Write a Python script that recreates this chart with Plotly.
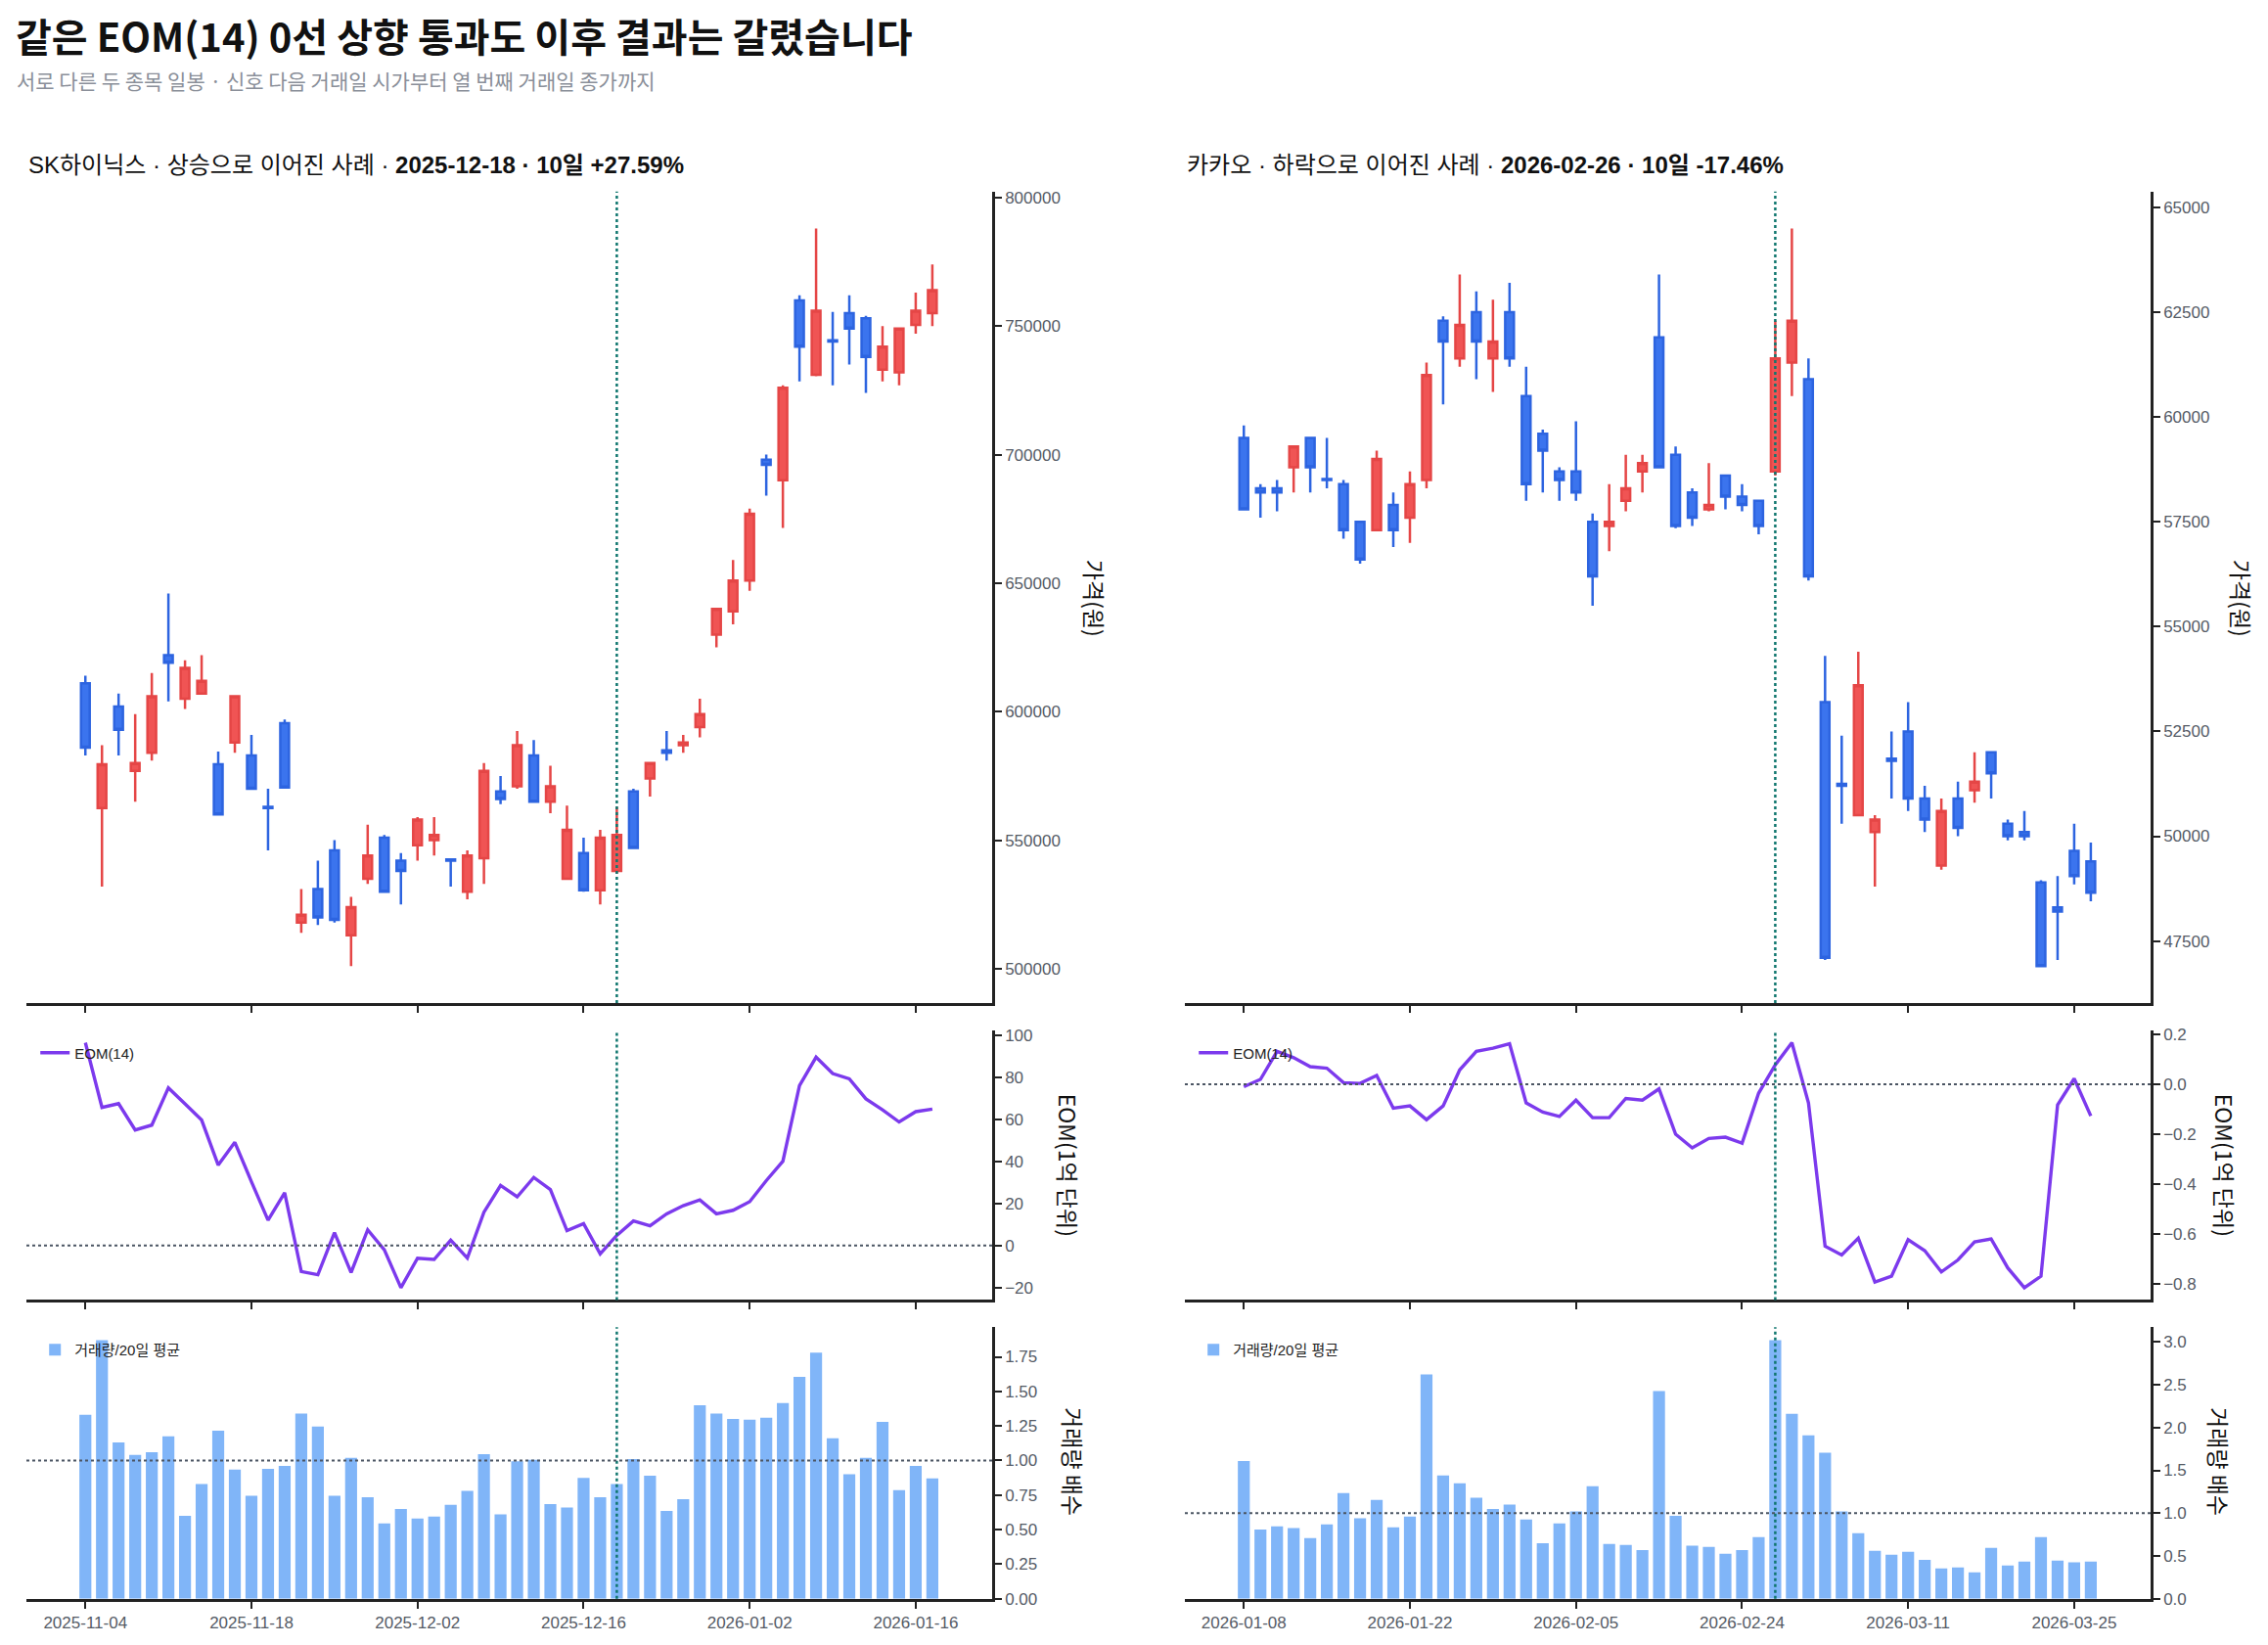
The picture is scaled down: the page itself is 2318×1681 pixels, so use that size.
import plotly.graph_objects as go
from plotly.subplots import make_subplots

# ── Data: SK하이닉스 (signal 2025-12-18) ─────────────────────────────────────
SK_DATES = [
    "2025-11-04", "2025-11-05", "2025-11-06", "2025-11-07", "2025-11-10", "2025-11-11",
    "2025-11-12", "2025-11-13", "2025-11-14", "2025-11-17", "2025-11-18", "2025-11-19",
    "2025-11-20", "2025-11-21", "2025-11-24", "2025-11-25", "2025-11-26", "2025-11-27",
    "2025-11-28", "2025-12-01", "2025-12-02", "2025-12-03", "2025-12-04", "2025-12-05",
    "2025-12-08", "2025-12-09", "2025-12-10", "2025-12-11", "2025-12-12", "2025-12-15",
    "2025-12-16", "2025-12-17", "2025-12-18", "2025-12-19", "2025-12-22", "2025-12-23",
    "2025-12-24", "2025-12-26", "2025-12-29", "2025-12-30", "2026-01-02", "2026-01-05",
    "2026-01-06", "2026-01-07", "2026-01-08", "2026-01-09", "2026-01-12", "2026-01-13",
    "2026-01-14", "2026-01-15", "2026-01-16", "2026-01-19",
]
SK_OPEN = [
    611000, 562500, 602000, 577000, 584000, 622000, 605000, 607000, 579500, 588000,
    583000, 563000, 595500, 518000, 531000, 546000, 513000, 535000, 551000, 542000,
    548000, 550000, 542500, 530000, 543000, 569000, 571000, 583000, 565000, 535000,
    545000, 530500, 538000, 569000, 574000, 585000, 587000, 594000, 630000, 639000,
    651000, 698000, 690000, 760000, 731000, 744500, 755000, 753000, 733000, 732000,
    750500, 755000,
]
SK_HIGH = [
    614000, 587000, 607000, 599000, 615000, 646000, 620000, 622000, 584500, 606000,
    591000, 570000, 597000, 531000, 542000, 550000, 528000, 556000, 552000, 545000,
    559000, 559000, 543000, 546000, 580000, 575000, 592500, 589000, 579000, 563500,
    551000, 554000, 563000, 570000, 580000, 592500, 591000, 605000, 640000, 659000,
    679000, 700000, 727000, 762000, 788000, 755500, 762000, 754000, 750000, 749500,
    763000, 774000,
]
SK_LOW = [
    583000, 532000, 583000, 565000, 581000, 604000, 601000, 607000, 560000, 584000,
    570000, 546000, 570000, 514000, 517000, 518000, 501000, 533000, 530000, 525000,
    542000, 544000, 532000, 527000, 533000, 564000, 570000, 565000, 560500, 535000,
    530000, 525000, 537000, 547000, 567000, 581000, 584000, 590000, 625000, 634000,
    647000, 684000, 671500, 728500, 730500, 727000, 735000, 724000, 728500, 727000,
    747000, 750000,
]
SK_CLOSE = [
    586000, 579500, 593000, 580000, 606000, 619000, 617000, 612000, 560000, 606000,
    570000, 562500, 570500, 521000, 520000, 519000, 524000, 544000, 530000, 538000,
    558000, 552000, 542000, 544000, 577000, 566000, 587000, 565000, 571000, 554000,
    530500, 551000, 552000, 547000, 580000, 584000, 588000, 599000, 640000, 651000,
    677000, 696000, 726000, 742000, 756000, 744000, 749000, 738000, 742000, 749000,
    756000, 764000,
]
SK_EOM = [
    96.4, 65.6, 67.4, 54.9, 57.2, 74.9, 67.3, 59.6, 38.2, 49.0,
    30.3, 12.0, 25.0, -12.4, -13.9, 6.1, -12.9, 7.4, -2.1, -20.1,
    -6.1, -6.7, 2.5, -6.0, 15.8, 28.5, 23.1, 32.3, 26.5, 7.0,
    10.4, -4.0, 4.8, 11.6, 9.3, 15.0, 18.9, 21.6, 15.0, 16.7,
    20.8, 30.8, 40.0, 76.0, 89.5, 81.7, 79.2, 69.7, 64.5, 58.7,
    63.6, 64.8,
]
SK_VOL_RATIO = [
    1.33, 1.87, 1.13, 1.04, 1.06, 1.175, 0.60, 0.83, 1.215, 0.935,
    0.745, 0.94, 0.96, 1.34, 1.245, 0.745, 1.02, 0.735, 0.545, 0.65,
    0.58, 0.595, 0.68, 0.78, 1.045, 0.61, 0.995, 1.005, 0.685, 0.66,
    0.875, 0.735, 0.83, 1.01, 0.89, 0.635, 0.72, 1.40, 1.34, 1.30,
    1.295, 1.31, 1.415, 1.605, 1.78, 1.16, 0.90, 1.02, 1.28, 0.785,
    0.96, 0.87,
]

# ── Data: 카카오 (signal 2026-02-26) ─────────────────────────────────────────
KK_DATES = [
    "2026-01-08", "2026-01-09", "2026-01-12", "2026-01-13", "2026-01-14", "2026-01-15",
    "2026-01-16", "2026-01-19", "2026-01-20", "2026-01-21", "2026-01-22", "2026-01-23",
    "2026-01-26", "2026-01-27", "2026-01-28", "2026-01-29", "2026-01-30", "2026-02-02",
    "2026-02-03", "2026-02-04", "2026-02-05", "2026-02-06", "2026-02-09", "2026-02-10",
    "2026-02-11", "2026-02-12", "2026-02-13", "2026-02-19", "2026-02-20", "2026-02-23",
    "2026-02-24", "2026-02-25", "2026-02-26", "2026-02-27", "2026-03-03", "2026-03-04",
    "2026-03-05", "2026-03-06", "2026-03-09", "2026-03-10", "2026-03-11", "2026-03-12",
    "2026-03-13", "2026-03-16", "2026-03-17", "2026-03-18", "2026-03-19", "2026-03-20",
    "2026-03-23", "2026-03-24", "2026-03-25", "2026-03-26",
]
KK_OPEN = [
    59500, 58300, 58300, 58800, 59500, 58520, 58400, 57500, 57300, 57900,
    57600, 58500, 62300, 61400, 62500, 61400, 62500, 60500, 59600, 58700,
    58700, 57500, 57400, 58000, 58700, 61900, 59100, 58200, 57800, 58600,
    58100, 58000, 58700, 61300, 60900, 53200, 51250, 50500, 50100, 51850,
    52500, 50900, 49300, 50900, 51100, 52000, 50300, 50100, 48900, 48300,
    49650, 49400,
]
KK_HIGH = [
    59800, 58400, 58500, 59300, 59500, 59500, 58500, 57500, 59200, 58200,
    58700, 61300, 62400, 63400, 63000, 62800, 63200, 61200, 59700, 58800,
    59900, 57700, 58400, 59100, 59100, 63400, 59300, 58300, 58900, 58600,
    58400, 58000, 62300, 64500, 61400, 54300, 52400, 54400, 50500, 52500,
    53200, 51200, 50900, 51300, 52000, 52000, 50400, 50600, 48950, 49050,
    50300, 49850,
]
KK_LOW = [
    57800, 57600, 57750, 58200, 58200, 58300, 57100, 56500, 57300, 56900,
    57000, 58300, 60300, 61200, 60900, 60600, 61200, 58000, 58200, 58000,
    58000, 55500, 56800, 57750, 58200, 58800, 57350, 57400, 57750, 57800,
    57750, 57200, 58600, 60500, 56100, 47050, 50300, 50500, 48800, 50900,
    50600, 50100, 49200, 50000, 50800, 50900, 49900, 49900, 46900, 47050,
    48850, 48450,
]
KK_CLOSE = [
    57800, 58200, 58200, 59300, 58800, 58500, 57300, 56600, 59000, 57300,
    58400, 61000, 61800, 62200, 61800, 61800, 61400, 58400, 59200, 58500,
    58200, 56200, 57500, 58300, 58900, 58800, 57400, 57600, 57900, 58100,
    57900, 57400, 61400, 62300, 56200, 47100, 51200, 53600, 50400, 51800,
    50900, 50400, 50600, 50200, 51300, 51500, 50000, 50000, 46900, 48200,
    49050, 48650,
]
KK_EOM = [
    -0.010, 0.019, 0.131, 0.106, 0.070, 0.064, 0.006, 0.003, 0.035, -0.096,
    -0.087, -0.142, -0.087, 0.057, 0.131, 0.144, 0.162, -0.075, -0.112, -0.129,
    -0.064, -0.134, -0.134, -0.057, -0.064, -0.019, -0.200, -0.255, -0.217, -0.212,
    -0.236, -0.036, 0.077, 0.166, -0.075, -0.648, -0.683, -0.616, -0.791, -0.768,
    -0.622, -0.666, -0.751, -0.703, -0.631, -0.619, -0.735, -0.814, -0.768, -0.083,
    0.022, -0.127,
]
KK_VOL_RATIO = [
    1.61, 0.81, 0.845, 0.825, 0.71, 0.87, 1.235, 0.94, 1.155, 0.835,
    0.96, 2.62, 1.44, 1.35, 1.18, 1.05, 1.10, 0.925, 0.65, 0.88,
    1.02, 1.315, 0.64, 0.63, 0.57, 2.425, 0.97, 0.62, 0.605, 0.525,
    0.57, 0.72, 3.02, 2.16, 1.91, 1.705, 1.02, 0.765, 0.56, 0.515,
    0.55, 0.455, 0.355, 0.365, 0.31, 0.595, 0.39, 0.435, 0.72, 0.445,
    0.425, 0.435,
]

PANELS = [
    dict(name="SK하이닉스", outcome="상승으로 이어진 사례", signal="2025-12-18", ret="+27.59%",
         dates=SK_DATES, o=SK_OPEN, h=SK_HIGH, l=SK_LOW, c=SK_CLOSE,
         eom=SK_EOM, vol=SK_VOL_RATIO,
         price_ticks=[500000, 550000, 600000, 650000, 700000, 750000, 800000],
         eom_ticks=[-20, 0, 20, 40, 60, 80, 100], eom_fmt="d",
         vol_ticks=[0, 0.25, 0.5, 0.75, 1.0, 1.25, 1.5, 1.75], vol_fmt=".2f"),
    dict(name="카카오", outcome="하락으로 이어진 사례", signal="2026-02-26", ret="-17.46%",
         dates=KK_DATES, o=KK_OPEN, h=KK_HIGH, l=KK_LOW, c=KK_CLOSE,
         eom=KK_EOM, vol=KK_VOL_RATIO,
         price_ticks=[47500, 50000, 52500, 55000, 57500, 60000, 62500, 65000],
         eom_ticks=[-0.8, -0.6, -0.4, -0.2, 0.0, 0.2], eom_fmt=".1f",
         vol_ticks=[0, 0.5, 1.0, 1.5, 2.0, 2.5, 3.0], vol_fmt=".1f"),
]

# ── Style ────────────────────────────────────────────────────────────────────
UP_FILL, UP_LINE = "#f05454", "#e54646"
DN_FILL, DN_LINE = "#3b74ee", "#2d64e0"
EOM_COLOR = "#7c3aed"
VOL_COLOR = "#80b5f8"
SIGNAL_COLOR = "#0f766e"
REF_COLOR = "#4b5563"
AXIS_COLOR = "#222222"
TICK_FONT = dict(family="Liberation Sans, Noto Sans CJK KR", size=17, color="#555b66")
CJK = "Noto Sans CJK KR"

# window size; the page body keeps its default 8px margin, so the figure is shrunk
# to fit and every position below is given in window pixels
W, H, PAD = 2318, 1681, 8
FW, FH = W - 2 * PAD, H - 2 * PAD
Y_STRETCH, Y_SHIFT = 0.993, 3.0   # measured from a test render


def px(x):
    return (x - PAD) / FW


def py(y):
    y = (y - Y_SHIFT) / Y_STRETCH
    return 1 - (y - PAD) / FH


X_DOMAINS = [[px(27), px(1014)], [px(1211), px(2198)]]
Y_DOMAINS = [[py(1025), py(194)], [py(1329), py(1053)], [py(1635), py(1357)]]
X_RANGE = [-3.55, 54.6]


def padded(lo, hi, frac=0.05):
    span = hi - lo
    return [lo - span * frac, hi + span * frac]


fig = make_subplots(rows=3, cols=2)

for col, p in enumerate(PANELS, start=1):
    dates = p["dates"]
    # candles
    fig.add_trace(go.Candlestick(
        x=dates, open=p["o"], high=p["h"], low=p["l"], close=p["c"],
        increasing=dict(fillcolor=UP_FILL, line=dict(color=UP_LINE, width=2.5)),
        decreasing=dict(fillcolor=DN_FILL, line=dict(color=DN_LINE, width=2.5)),
        whiskerwidth=0, showlegend=False,
    ), row=1, col=col)
    # EOM
    fig.add_trace(go.Scatter(
        x=dates, y=p["eom"], mode="lines", name="EOM(14)",
        line=dict(color=EOM_COLOR, width=3.4),
        legend="legend" if col == 1 else "legend2",
    ), row=2, col=col)
    # volume ratio
    fig.add_trace(go.Bar(
        x=dates, y=p["vol"], name="거래량/20일 평균",
        marker=dict(color=VOL_COLOR, line=dict(width=0)),
        legend="legend3" if col == 1 else "legend4",
    ), row=3, col=col)

    tickvals = dates[::10]
    for row in (1, 2, 3):
        fig.update_xaxes(
            type="category", range=X_RANGE, domain=X_DOMAINS[col - 1],
            tickvals=tickvals, ticktext=tickvals, showticklabels=(row == 3),
            ticks="outside", ticklen=7, tickwidth=2, tickcolor=AXIS_COLOR,
            showline=True, linecolor=AXIS_COLOR, linewidth=2.5,
            showgrid=False, zeroline=False, tickfont=TICK_FONT,
            rangeslider=dict(visible=False), row=row, col=col,
        )
        fig.update_yaxes(
            side="right", domain=Y_DOMAINS[row - 1],
            ticks="outside", ticklen=7, tickwidth=2, tickcolor=AXIS_COLOR,
            showline=True, linecolor=AXIS_COLOR, linewidth=2.5,
            showgrid=False, zeroline=False, tickfont=TICK_FONT,
            row=row, col=col,
        )

    fig.update_yaxes(range=padded(min(p["l"]), max(p["h"])), tickvals=p["price_ticks"],
                     tickformat="d", row=1, col=col)
    fig.update_yaxes(range=padded(min(p["eom"]), max(p["eom"])), tickvals=p["eom_ticks"],
                     tickformat=p["eom_fmt"], row=2, col=col)
    fig.update_yaxes(range=[0, max(p["vol"]) * 1.05], tickvals=p["vol_ticks"],
                     tickformat=p["vol_fmt"], row=3, col=col)

    # reference lines
    for row in (1, 2, 3):
        n = (row - 1) * 2 + col
        xr = "x" if n == 1 else f"x{n}"
        yr = "y" if n == 1 else f"y{n}"
        fig.add_shape(type="line", xref=xr, yref=f"{yr} domain", x0=p["signal"], x1=p["signal"],
                      y0=0, y1=1, line=dict(color=SIGNAL_COLOR, width=2.5, dash="dot"))
        if row > 1:
            level = 0 if row == 2 else 1.0
            fig.add_shape(type="line", xref=f"{xr} domain", yref=yr, x0=0, x1=1,
                          y0=level, y1=level, line=dict(color=REF_COLOR, width=2, dash="dot"))

    # panel title
    fig.add_annotation(
        xref="paper", yref="paper", x=X_DOMAINS[col - 1][0], y=py(167),
        xanchor="left", yanchor="middle", showarrow=False,
        font=dict(family=f"Liberation Sans, {CJK}", size=24, color="#111111"),
        text=f"{p['name']} · {p['outcome']} · <b>{p['signal']} · 10일 {p['ret']}</b>",
    )

# axis titles (rotated clockwise, as on the right-hand spine)
AXIS_TITLES = [("가격(원)", 610, [1119, 2291]), ("EOM(1억 단위)", 1191, [1092, 2274]),
               ("거래량 배수", 1494, [1097, 2268])]
for text, ypx, xs in AXIS_TITLES:
    for xpx in xs:
        fig.add_annotation(xref="paper", yref="paper", x=px(xpx), y=py(ypx),
                           xanchor="center", yanchor="middle", textangle=90, showarrow=False,
                           borderpad=0, text=text,
                           font=dict(family=CJK, size=23, color="#111111"))

# main title / subtitle
fig.add_annotation(xref="paper", yref="paper", x=px(15), y=py(34), xanchor="left",
                   yanchor="middle", showarrow=False, borderpad=0,
                   text="<b>같은 EOM(14) 0선 상향 통과도 이후 결과는 갈렸습니다</b>",
                   font=dict(family=CJK, size=40, color="#111111", weight=900))
fig.add_annotation(xref="paper", yref="paper", x=px(15), y=py(80), xanchor="left",
                   yanchor="middle", showarrow=False,
                   text="서로 다른 두 종목 일봉 · 신호 다음 거래일 시가부터 열 번째 거래일 종가까지",
                   font=dict(family=CJK, size=21, color="#8a8f99"))

legend_style = dict(bgcolor="rgba(0,0,0,0)", borderwidth=0, xanchor="left", yanchor="top",
                    font=dict(family=f"Liberation Sans, {CJK}", size=15, color="#222222"),
                    itemwidth=30)
fig.update_layout(
    width=FW, height=FH,
    margin=dict(l=0, r=0, t=0, b=0),
    paper_bgcolor="white", plot_bgcolor="white",
    font=dict(family=f"Liberation Sans, {CJK}"),
    bargap=0.28, boxgap=0.25,
    legend=dict(x=X_DOMAINS[0][0] + 0.004, y=Y_DOMAINS[1][1] - 0.004, **legend_style),
    legend2=dict(x=X_DOMAINS[1][0] + 0.004, y=Y_DOMAINS[1][1] - 0.004, **legend_style),
    legend3=dict(x=X_DOMAINS[0][0] + 0.004, y=Y_DOMAINS[2][1] - 0.004, **legend_style),
    legend4=dict(x=X_DOMAINS[1][0] + 0.004, y=Y_DOMAINS[2][1] - 0.004, **legend_style),
)

fig.write_html("out.html", config={"displayModeBar": False})
